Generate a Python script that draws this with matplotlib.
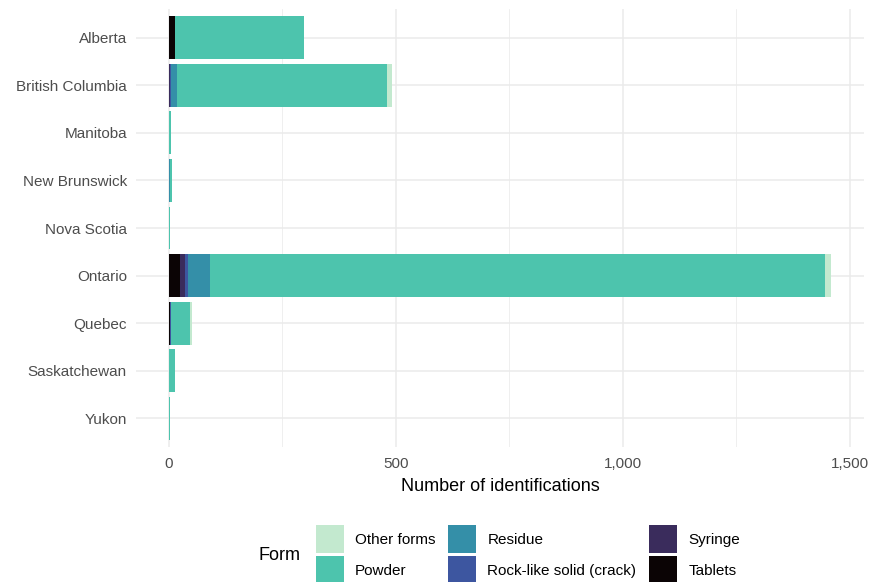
import numpy as np
import matplotlib
matplotlib.use("Agg")
import matplotlib.pyplot as plt
from matplotlib.patches import Patch
from matplotlib.ticker import FuncFormatter, MultipleLocator

plt.rcParams['font.family'] = ['Liberation Sans', 'DejaVu Sans']

provinces = ["Alberta", "British Columbia", "Manitoba", "New Brunswick",
             "Nova Scotia", "Ontario", "Quebec", "Saskatchewan", "Yukon"]

# counts per form, stacked left to right in this order
tablets = [14, 0, 0, 0, 0, 23, 2, 0, 0]
syringe = [0, 2, 0, 0, 0, 12, 0, 0, 0]
rock_like = [0, 2, 0, 0, 0, 7, 3, 0, 0]
residue = [0, 14, 0, 2, 0, 48, 0, 0, 0]
powder = [284, 462, 4, 4, 1, 1357, 42, 12, 2]
other_forms = [0, 12, 0, 0, 0, 12, 4, 0, 0]

series = [
    ("Tablets", tablets, "#0B0405"),
    ("Syringe", syringe, "#3A2C5C"),
    ("Rock-like solid (crack)", rock_like, "#3D56A0"),
    ("Residue", residue, "#348FA8"),
    ("Powder", powder, "#4DC4AD"),
    ("Other forms", other_forms, "#C3E9CF"),
]

fig = plt.figure(figsize=(8.83, 5.82), dpi=100)
ax = fig.add_axes([136 / 883, 1 - 447 / 582, (864 - 136) / 883, (447 - 9) / 582])

y = np.arange(len(provinces))
left = np.zeros(len(provinces))
for name, vals, col in series:
    vals = np.array(vals, dtype=float)
    ax.barh(y, vals, left=left, height=0.9, color=col, linewidth=0, label=name)
    left += vals

total = left.max()
ax.set_xlim(-0.05 * total, 1.05 * total)
ax.set_ylim(len(provinces) - 0.4, -0.6)

ax.set_yticks(y)
ax.set_yticklabels(provinces)
ax.xaxis.set_major_locator(MultipleLocator(500))
ax.xaxis.set_minor_locator(MultipleLocator(250))
ax.xaxis.set_major_formatter(FuncFormatter(lambda v, p: f"{int(v):,}"))

ax.set_axisbelow(True)
ax.grid(which="major", axis="both", color="#EBEBEB", linewidth=1.1)
ax.grid(which="minor", axis="x", color="#EBEBEB", linewidth=0.55)
for s in ax.spines.values():
    s.set_visible(False)
ax.tick_params(axis="both", which="both", length=0, labelsize=11, labelcolor="#4D4D4D")
ax.tick_params(axis="y", pad=6.5)
ax.tick_params(axis="x", pad=7)

ax.set_xlabel("Number of identifications", fontsize=13, color="black", labelpad=5)

# legend: columns (Other, Powder), (Residue, Rock-like), (Syringe, Tablets)
order = ["Other forms", "Powder", "Residue", "Rock-like solid (crack)", "Syringe", "Tablets"]
colors = {name: col for name, _, col in series}
handles = [Patch(facecolor=colors[n], edgecolor="none", label=n) for n in order]
fig.legend(handles=handles, loc="upper left", bbox_to_anchor=(316 / 883, 1 - 525 / 582),
           ncol=3, frameon=False, fontsize=11, borderpad=0, borderaxespad=0,
           handlelength=1.8, handleheight=2.45, handletextpad=0.75,
           labelspacing=0.2, columnspacing=0.85)
fig.text(259 / 883, 1 - 556 / 582, "Form", fontsize=13, ha="left", va="center")

fig.savefig("out.png", dpi=100)
